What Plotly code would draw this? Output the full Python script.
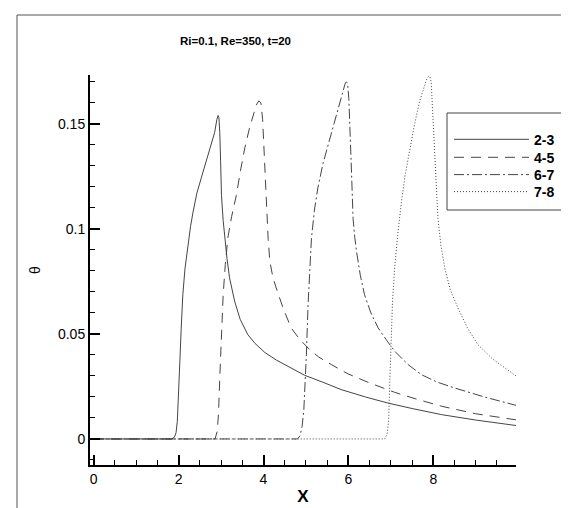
import plotly.graph_objects as go

# ---- data ----
x_23 = [0, 1.83, 1.90, 1.94, 1.97, 2.00, 2.03, 2.06, 2.10, 2.15, 2.22, 2.28, 2.34, 2.43, 2.53, 2.65,
        2.77, 2.85, 2.90, 2.93, 2.95, 2.97, 2.99, 3.01, 3.05, 3.09, 3.14, 3.20, 3.26, 3.32, 3.45, 3.63,
        3.80, 4.03, 4.30, 4.58, 4.97, 5.40, 5.83, 6.40, 6.93, 7.50, 8.19, 9.00, 9.95]
y_23 = [0, 0, 0.0008, 0.003, 0.0084, 0.020, 0.037, 0.052, 0.0687, 0.081, 0.0925, 0.101, 0.108, 0.117,
        0.124, 0.132, 0.140, 0.146, 0.152, 0.154, 0.153, 0.146, 0.132, 0.116, 0.104, 0.0957, 0.086,
        0.0767, 0.0705, 0.0656, 0.057, 0.0497, 0.0455, 0.0412, 0.0376, 0.0346, 0.0303, 0.027, 0.0235,
        0.020, 0.0171, 0.0145, 0.0116, 0.009, 0.0064]

x_45 = [0, 2.86, 2.91, 2.94, 2.97, 3.01, 3.05, 3.10, 3.16, 3.25, 3.36, 3.46, 3.56, 3.67, 3.75, 3.83,
        3.89, 3.94, 3.98, 4.01, 4.03, 4.07, 4.11, 4.15, 4.22, 4.30, 4.38, 4.46, 4.65, 4.85, 5.05, 5.30,
        5.60, 5.99, 6.46, 7.09, 7.60, 8.19, 9.00, 9.95]
y_45 = [0, 0, 0.0037, 0.012, 0.029, 0.050, 0.0687, 0.083, 0.0957, 0.106, 0.116, 0.128, 0.1386, 0.148,
        0.154, 0.159, 0.161, 0.160, 0.152, 0.138, 0.125, 0.108, 0.095, 0.0846, 0.077, 0.0719, 0.067,
        0.0624, 0.0529, 0.0475, 0.0433, 0.039, 0.0354, 0.031, 0.027, 0.0222, 0.019, 0.0156, 0.012, 0.0091]

x_67 = [0, 4.80, 4.86, 4.91, 4.95, 4.98, 5.01, 5.05, 5.09, 5.13, 5.20, 5.28, 5.40, 5.52, 5.64, 5.76,
        5.86, 5.92, 5.95, 5.98, 6.01, 6.03, 6.05, 6.07, 6.09, 6.11, 6.15, 6.19, 6.28, 6.38, 6.53, 6.70,
        6.90, 7.09, 7.40, 7.72, 8.10, 8.50, 9.20, 9.95]
y_67 = [0, 0, 0.0015, 0.006, 0.014, 0.0243, 0.040, 0.064, 0.082, 0.0957, 0.109, 0.1195, 0.131, 0.140,
        0.149, 0.1576, 0.165, 0.169, 0.170, 0.1695, 0.162, 0.153, 0.141, 0.129, 0.117, 0.105, 0.096,
        0.0894, 0.078, 0.0687, 0.060, 0.0529, 0.047, 0.0418, 0.0355, 0.0306, 0.027, 0.0243, 0.020, 0.0160]

x_78 = [0, 6.86, 6.92, 6.95, 6.97, 6.99, 7.01, 7.04, 7.09, 7.16, 7.25, 7.34, 7.44, 7.56, 7.68, 7.78,
        7.84, 7.88, 7.92, 7.95, 7.99, 8.03, 8.07, 8.11, 8.18, 8.27, 8.40, 8.58, 8.80, 9.05, 9.40, 9.95]
y_78 = [0, 0, 0.003, 0.010, 0.0243, 0.040, 0.052, 0.066, 0.0814, 0.097, 0.113, 0.126, 0.137, 0.150,
        0.161, 0.168, 0.171, 0.1725, 0.1725, 0.170, 0.155, 0.137, 0.120, 0.105, 0.092, 0.0814, 0.071,
        0.0624, 0.053, 0.0449, 0.038, 0.030]

series_names = ["2-3", "4-5", "6-7", "7-8"]
x_tickvals = [0, 2, 4, 6, 8]
x_ticktext = ["0", "2", "4", "6", "8"]
y_tickvals = [0, 0.05, 0.1, 0.15]
y_ticktext = ["0", "0.05", "0.1", "0.15"]
title_text = "Ri=0.1, Re=350, t=20"

# ---- figure ----
W, H = 569, 508
L, R, T, B = 82, 61, 67, 51
pw, ph = W - L - R, H - T - B

FONT = "Arial, Liberation Sans, sans-serif"
col = "#454545"
dashes = ["solid", "10px,7px", "10px,3px,2px,3px", "1px,2px"]
xs = [x_23, x_45, x_67, x_78]
ys = [y_23, y_45, y_67, y_78]
legend_ids = ["legend", "legend2", "legend3", "legend4"]


def px_x(p):
    return (p - L) / pw


def px_y(p):
    return (H - B - p) / ph


fig = go.Figure()
for name, xv, yv, d, lg in zip(series_names, xs, ys, dashes, legend_ids):
    fig.add_trace(go.Scatter(x=xv, y=yv, mode="lines", name="<b>" + name + "</b>", legend=lg,
                             line=dict(color=col, width=1, dash=d)))

axis_common = dict(showline=True, linecolor="black", linewidth=2, mirror=False, automargin=False,
                   showgrid=False, zeroline=False, ticks="inside", ticklen=10,
                   tickwidth=2, tickcolor="black",
                   tickfont=dict(family=FONT, size=14, color="black"))

fig.update_xaxes(range=[-0.087, 9.948], tickvals=x_tickvals, ticktext=x_ticktext,
                 minor=dict(dtick=0.5, ticks="inside", ticklen=5, tickwidth=1, tickcolor="black"),
                 title=dict(text="<b>X</b>", font=dict(family=FONT, size=17, color="black"), standoff=4),
                 **axis_common)
fig.update_yaxes(range=[-0.0124, 0.1733], tickvals=y_tickvals, ticktext=y_ticktext,
                 minor=dict(dtick=0.01, ticks="inside", ticklen=5, tickwidth=1, tickcolor="black"),
                 title=dict(text="θ", font=dict(family=FONT, size=14, color="black"), standoff=14),
                 **axis_common)

# legend: one legend per entry so spacing matches the reference
entry_y = [131.7, 149.7, 167.0, 184.0]
legends = {}
for lg, ey in zip(legend_ids, entry_y):
    legends[lg] = dict(x=px_x(441), y=px_y(ey), xanchor="left", yanchor="middle",
                       bgcolor="rgba(0,0,0,0)", borderwidth=0, itemwidth=75,
                       font=dict(family=FONT, size=14, color="black"))

fig.update_layout(
    width=W, height=H,
    margin=dict(l=L, r=R, t=T, b=B, autoexpand=False),
    paper_bgcolor="white", plot_bgcolor="white",
    showlegend=True,
    annotations=[dict(text="<b>" + title_text + "</b>", xref="paper", yref="paper",
                      x=px_x(227), y=px_y(33), showarrow=False, xanchor="center", yanchor="middle",
                      font=dict(family=FONT, size=11.5, color="black"))],
    shapes=[dict(type="rect", xref="paper", yref="paper",
                 x0=px_x(9), x1=px_x(W + 10), y0=px_y(H + 10), y1=px_y(7),
                 line=dict(color="#555", width=1), fillcolor="rgba(0,0,0,0)", layer="below"),
            dict(type="rect", xref="paper", yref="paper",
                 x0=px_x(439), x1=px_x(564), y0=px_y(202), y1=px_y(105),
                 line=dict(color="#444", width=1), fillcolor="white", layer="above")],
    **legends,
)

fig.write_html("out.html")
